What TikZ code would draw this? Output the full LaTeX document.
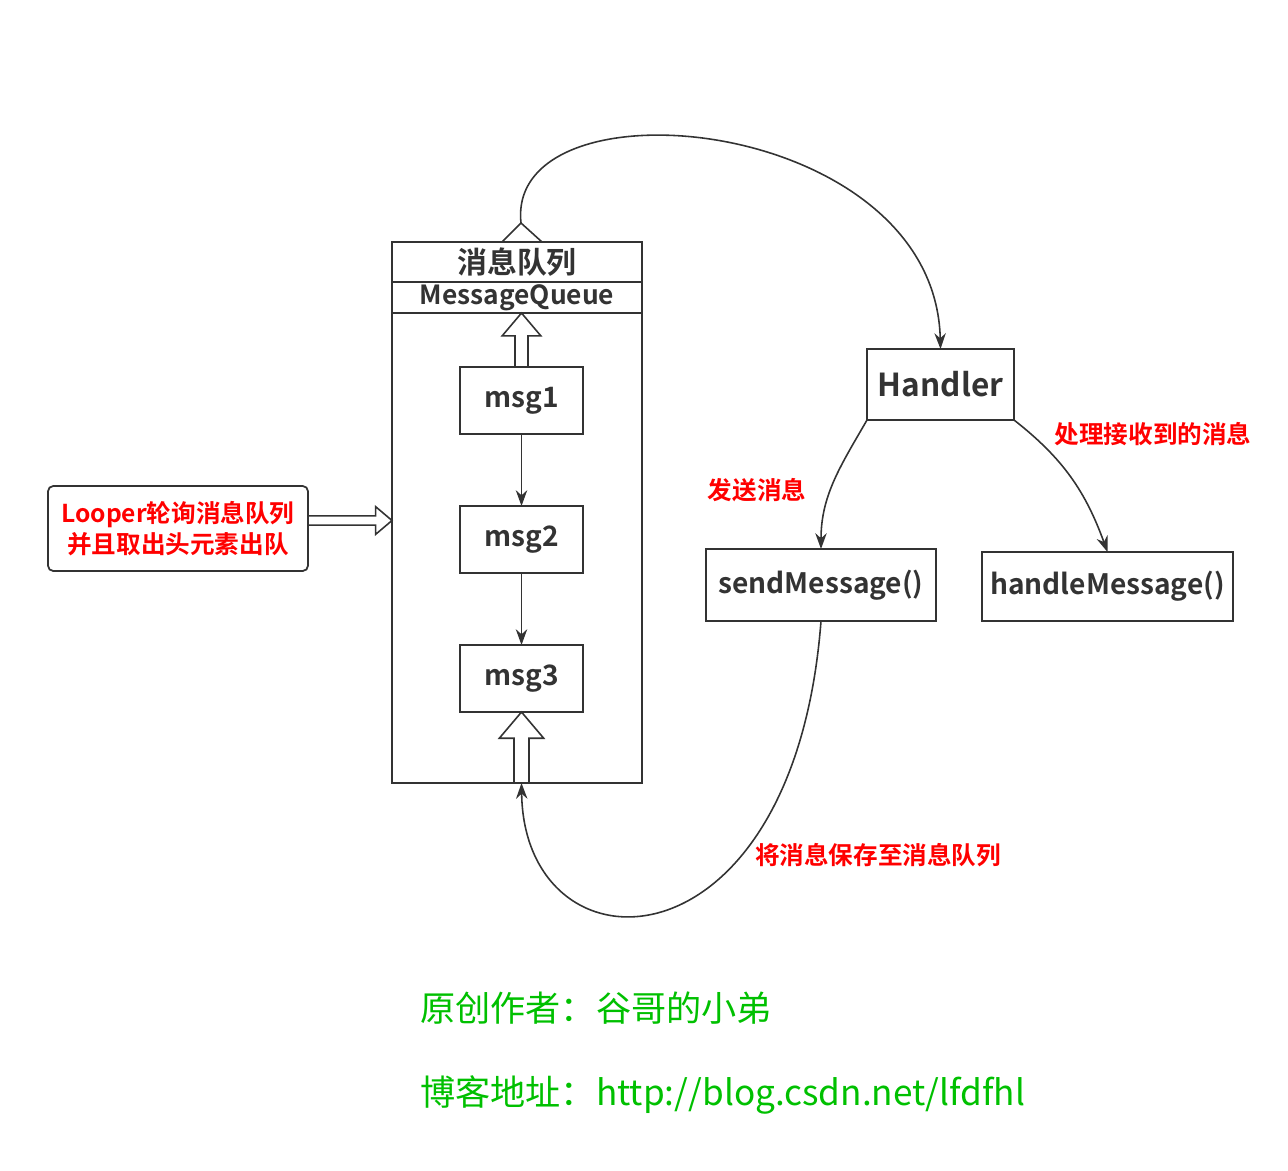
\documentclass[tikz,border=0pt]{standalone}
\usepackage{fontspec}
\setmainfont{Noto Sans CJK SC}[BoldFont={Noto Sans CJK SC Bold}]
\usepackage{tikz}
\usetikzlibrary{arrows.meta, positioning, calc}
\definecolor{linegray}{RGB}{51,51,51}
\definecolor{notered}{RGB}{255,0,0}
\definecolor{signgreen}{RGB}{0,192,0}

\newcommand{\fatarrow}[3][1]{%
  \draw[fat] let \p1=($(#3)-(#2)$), \n1={veclen(\x1,\y1)}, \n2={atan2(\y1,\x1)} in
    [shift={(#2)}, rotate=\n2]
    (0pt,-3.7pt*#1) -- ({\n1-13pt*#1},-3.7pt*#1) -- ({\n1-13pt*#1},-11pt*#1) -- (\n1,0pt)
    -- ({\n1-13pt*#1},11pt*#1) -- ({\n1-13pt*#1},3.7pt*#1) -- (0pt,3.7pt*#1) -- cycle;}

\begin{document}
\begin{tikzpicture}[
    node distance=1.44cm,
    box/.style={rectangle, draw=linegray, line width=1pt, outer sep=0pt, inner sep=0pt, text=linegray, font=\bfseries\fontsize{16}{19}\selectfont},
    msg/.style={box, minimum width=2.46cm, minimum height=1.34cm},
    note/.style={text=notered, font=\bfseries\fontsize{14}{17}\selectfont},
    sign/.style={text=signgreen, anchor=west, inner sep=0pt, font=\fontsize{20}{24}\selectfont},
    fat/.style={draw=linegray, fill=white, line width=0.9pt},
    conn/.style={draw=linegray, line width=0.9pt},
    arrow/.style={conn, -{Stealth[length=9pt,width=6.5pt]}}
]
    \useasboundingbox (0,0) rectangle (25.76,-23.4);
    \node[box, minimum width=5cm, minimum height=10.82cm] (queue) at (10.34,-10.25) {};
    \node[box, minimum width=5cm, minimum height=0.8cm, anchor=north, font=\bfseries\fontsize{17}{20}\selectfont] (qtitle) at (queue.north) {消息队列};
    \node[box, minimum width=5cm, minimum height=0.62cm, below=0pt of qtitle, font=\bfseries\fontsize{15}{18}\selectfont] (qname) {MessageQueue};
    \node[msg] (msg1) at (10.43,-8.01) {msg1};
    \node[msg, below=of msg1] (msg2) {msg2};
    \node[msg, below=of msg2] (msg3) {msg3};
    \node[box, rounded corners=3pt, minimum width=5.2cm, minimum height=1.7cm, align=center, text=notered, font=\bfseries\fontsize{14}{18}\selectfont] (looper) at (3.56,-10.57) {Looper轮询消息队列\\并且取出头元素出队};
    \node[box, minimum width=2.94cm, minimum height=1.42cm, font=\bfseries\fontsize{18}{21}\selectfont] (handler) at (18.81,-7.69) {Handler};
    \node[box, minimum width=4.6cm, minimum height=1.44cm] (send) at (16.42,-11.7) {sendMessage()};
    \node[box, minimum width=5.02cm, minimum height=1.38cm] (handle) at (22.15,-11.73) {handleMessage()};
    \node[note] (lsend) at (15.14,-9.8) {发送消息};
    \node[note] (lhandle) at (23.06,-8.68) {处理接收到的消息};
    \node[note] (lsave) at (17.56,-17.1) {将消息保存至消息队列};
    \node[sign] (author) at (8.4,-20.16) {原创作者：谷哥的小弟};
    \node[sign] (blog) at (8.4,-21.9) {博客地址：http://blog.csdn.net/lfdfhl};
    \coordinate (qtop) at ([xshift=0.08cm,yshift=0.38cm]queue.north);
    \coordinate (lin) at ([yshift=0.16cm]looper.east);
    \coordinate (lout) at (lin -| queue.west);
    \draw[arrow] (msg1) -- (msg2);
    \draw[arrow] (msg2) -- (msg3);
    \fatarrow{msg1.north}{msg1.north |- qname.south}
    \fatarrow[1.15]{msg3.south |- queue.south}{msg3.south}
    \fatarrow[0.72]{lin}{lout}
    \draw[conn] ([xshift=-0.3cm]queue.north) -- (qtop) -- ([xshift=0.5cm]queue.north);
    \draw[arrow] (qtop) .. controls +(-0.32,2.96) and +(-0.11,4.7) .. (handler.north);
    \draw[arrow] (handler.south west) to[out=-120, in=90] (send.north);
    \draw[arrow] (handler.south east) to[out=-38, in=110] (handle.north);
    \draw[arrow] (send.south) .. controls +(-0.55,-7.18) and +(0.05,-3.94) .. (msg3.south |- queue.south);
\end{tikzpicture}
\end{document}
